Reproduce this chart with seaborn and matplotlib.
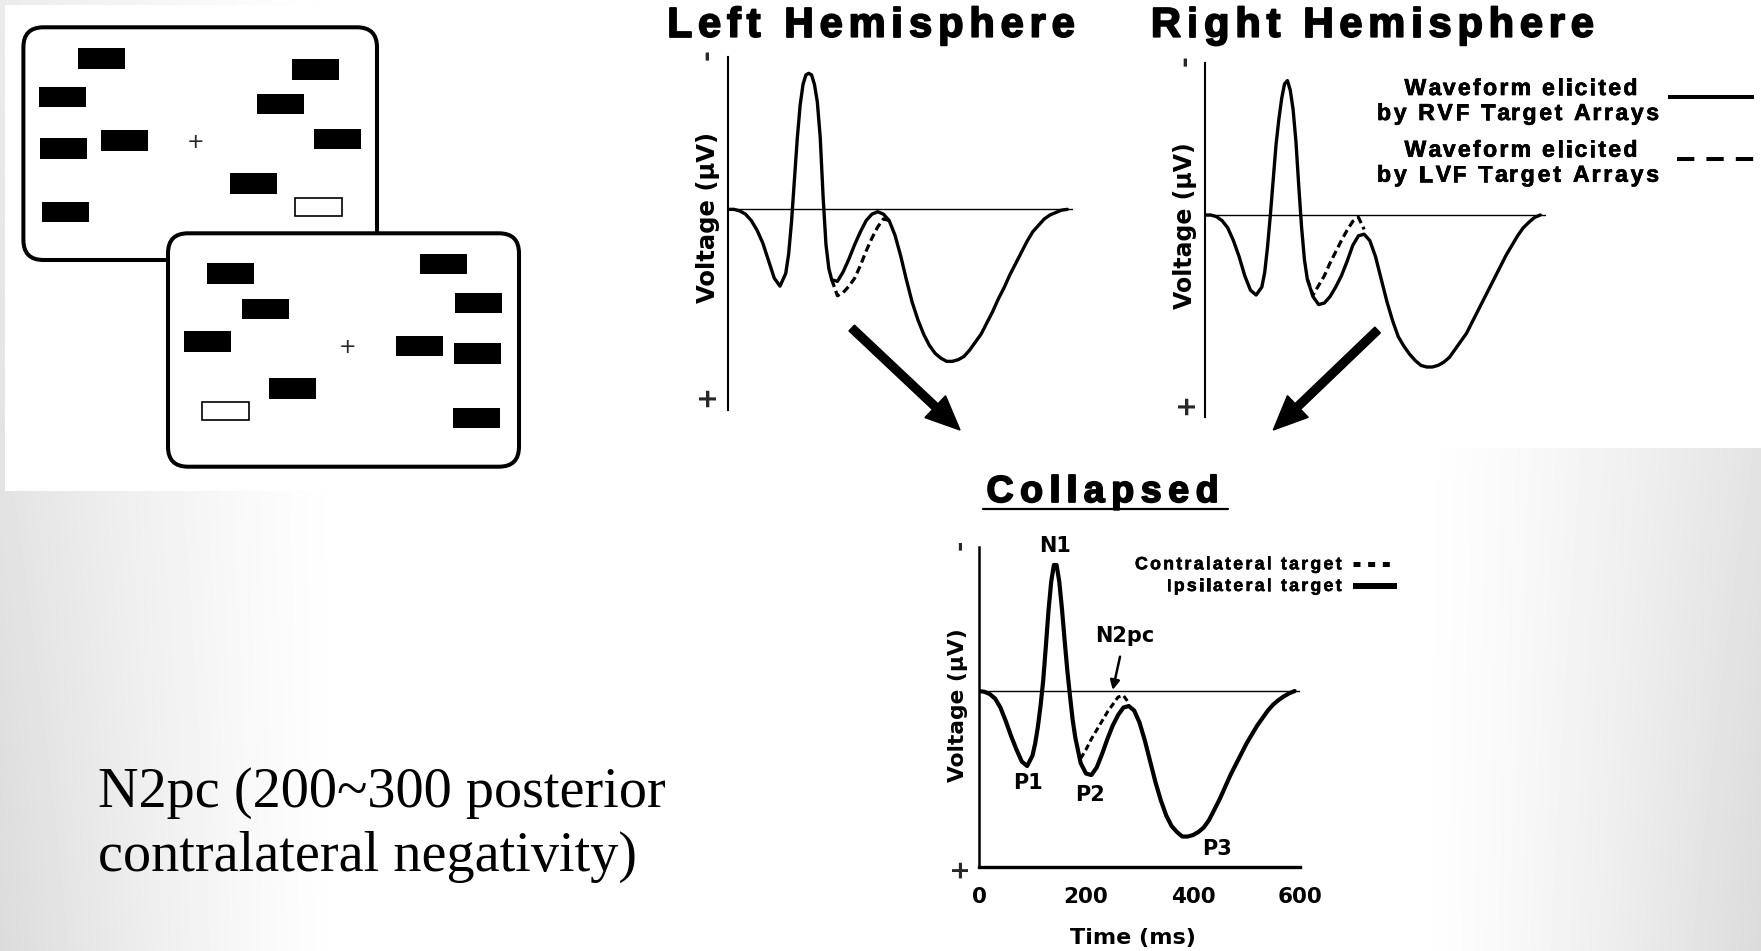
import numpy as np
import matplotlib
matplotlib.use("Agg")
import matplotlib.pyplot as plt
import matplotlib.patheffects as pe
import seaborn as sns
from matplotlib.font_manager import FontProperties
from matplotlib.patches import FancyBboxPatch, Rectangle, FancyArrow

# ------------------------------------------------------------------ data
time_ms = [0, 10, 20, 30, 40, 50, 60, 70, 80, 90, 100,
           105, 110, 115, 120, 125, 130, 135, 140, 145, 150, 155, 160, 165, 170, 175, 180,
           190, 200, 210, 220, 230, 240, 250, 260, 270, 280, 290, 300, 310, 320, 330, 340,
           350, 360, 370, 380, 390, 400, 410, 420, 430, 440, 450, 460, 470, 480, 490, 500,
           510, 520, 530, 540, 550, 560, 570, 580, 590]

# voltage in µV (negative plotted upward)
left_rvf = [0.0, 0.0, 0.1, 0.3, 0.7, 1.3, 2.1, 3.2, 4.3, 4.8, 4.0,
            2.8, 0.8, -1.8, -4.4, -6.5, -7.8, -8.4, -8.5, -8.4, -7.8, -6.7, -4.5, -0.8, 2.2, 3.7, 4.4,
            4.5, 3.9, 3.1, 2.2, 1.4, 0.7, 0.3, 0.15, 0.3, 0.7, 1.6, 2.9, 4.4, 5.8, 6.9, 7.8,
            8.5, 9.0, 9.3, 9.5, 9.5, 9.4, 9.2, 8.8, 8.3, 7.8, 7.1, 6.4, 5.6, 4.9, 4.1, 3.4,
            2.7, 2.0, 1.4, 1.0, 0.6, 0.35, 0.2, 0.05, 0.0]

right_rvf = [0.0, 0.0, 0.1, 0.35, 0.8, 1.6, 2.6, 3.8, 4.7, 5.0, 4.5,
             3.6, 2.0, 0.0, -2.2, -4.4, -6.0, -7.3, -8.2, -8.4, -7.8, -6.6, -4.6, -1.8, 0.8, 2.8, 4.0,
             5.1, 5.6, 5.5, 5.1, 4.5, 3.8, 2.9, 1.9, 1.3, 1.2, 1.6, 2.6, 4.0, 5.4, 6.6, 7.6,
             8.2, 8.7, 9.1, 9.4, 9.5, 9.5, 9.4, 9.2, 8.9, 8.4, 7.9, 7.4, 6.7, 6.0, 5.3, 4.6,
             3.9, 3.2, 2.5, 1.9, 1.3, 0.8, 0.45, 0.15, 0.0]

collapsed_ipsi = [0.0, 0.05, 0.2, 0.5, 1.1, 2.0, 3.0, 3.9, 4.7, 5.0, 4.3,
                  3.5, 2.4, 1.0, -0.7, -3.0, -5.4, -7.3, -8.4, -8.4, -7.3, -5.5, -3.4, -1.4, 0.3, 1.9, 3.1,
                  4.8, 5.5, 5.6, 5.1, 4.2, 3.2, 2.3, 1.6, 1.1, 1.0, 1.3, 2.1, 3.3, 4.7, 6.1, 7.3,
                  8.3, 9.0, 9.4, 9.7, 9.7, 9.6, 9.4, 9.1, 8.6, 7.9, 7.2, 6.4, 5.6, 4.9, 4.2, 3.5,
                  2.9, 2.3, 1.8, 1.3, 0.9, 0.6, 0.35, 0.15, 0.0]

n2pc_time = [180, 190, 200, 210, 220, 230, 240, 250, 260, 270, 280]
left_lvf = [4.4, 5.4, 5.2, 4.8, 4.3, 3.5, 2.6, 1.8, 1.1, 0.6, 0.7]
right_lvf = [4.0, 5.0, 4.4, 3.8, 3.0, 2.3, 1.6, 0.95, 0.4, 0.15, 0.9]

contra_time = [190, 200, 210, 220, 230, 240, 250, 260, 270, 280]
collapsed_contra = [4.5, 3.9, 3.2, 2.6, 2.0, 1.4, 0.9, 0.4, 0.3, 0.8]

x_major = [0, 200, 400, 600]
x_minor = [100, 300, 500]
peak_names = ["N1", "P1", "P2", "P3"]
peak_time = [142, 92, 207, 444]
peak_volt = [-9.3, 6.5, 7.3, 10.9]

# stimulus displays: centres of the distractor bars and of the target (outlined) bar
display1_bars = [(101, 58.3), (62.5, 97), (63.9, 148.7), (124.9, 140.3), (65, 212),
                 (315, 69.5), (280.7, 104.2), (337.3, 139.2), (253.1, 183.7)]
display1_target = (318.9, 207.2)
display1_fix = (195.6, 141.7)
display2_bars = [(230.7, 273.3), (265.5, 309), (207.5, 341.7), (292.2, 388.5),
                 (443, 264.2), (478.7, 303), (419.6, 345.9), (477.8, 353.3), (476.6, 417.8)]
display2_target = (225.6, 410.9)
display2_fix = (347.8, 346.7)

# ------------------------------------------------------------------ setup
sns.set_style("white")
plt.rcParams['font.family'] = ['DejaVu Sans']
W, H = 1761, 951
fig = plt.figure(figsize=(W / 100, H / 100), dpi=100)
TRACK_FAMILY = 'Liberation Sans'

# background (slide gradient) in pixel coordinates
bg = fig.add_axes([0, 0, 1, 1], zorder=0)
bg.set_xlim(0, W)
bg.set_ylim(H, 0)
bg.axis('off')
yy, xx = np.mgrid[0:H, 0:W]
dx = np.abs(xx - 880) / 880.0
shade = np.clip((dx - 0.6) / 0.4, 0, 1) ** 1.3 * (0.08 + 0.06 * yy / H)
bg.imshow(1 - shade, cmap='gray', vmin=0, vmax=1, extent=(0, W, H, 0),
          aspect='auto', interpolation='bilinear', zorder=0)
for (x0, y0, w0, h0) in [(5, 5, 640, 486), (590, 0, 1171, 448), (860, 440, 540, 511)]:
    bg.add_patch(Rectangle((x0, y0), w0, h0, fc='white', ec='none', zorder=1))

# stimulus displays
bw, bh = 47, 20.5
for (bx, by, bwid, bhei), bars, tgt, fix in [
        ((23.4, 27.3, 353.6, 232.7), display1_bars, display1_target, display1_fix),
        ((168, 233.3, 351, 233.4), display2_bars, display2_target, display2_fix)]:
    bg.add_patch(FancyBboxPatch((bx, by), bwid, bhei, boxstyle='round,pad=0,rounding_size=20',
                                fc='white', ec='black', lw=2.9, zorder=2))
    for (cx, cy) in bars:
        bg.add_patch(Rectangle((cx - bw / 2, cy - bh / 2), bw, bh, fc='black', ec='none', zorder=3))
    bg.add_patch(Rectangle((tgt[0] - bw / 2, tgt[1] - 9), bw, 18, fc='white', ec='black',
                           lw=1.2, zorder=3))
    bg.text(fix[0], fix[1], '+', ha='center', va='center', fontsize=15, zorder=3)

renderer = fig.canvas.get_renderer()


def tracked(ax, x, y, s, size, width=None, track=0.0, ha='center', va='baseline', heavy=0.0):
    fp = FontProperties(family=TRACK_FAMILY, weight='bold', size=size)

    def tw(txt):
        if not txt:
            return 0.0
        a = renderer.get_text_width_height_descent(txt + 'x', fp, ismath=False)[0]
        b = renderer.get_text_width_height_descent('x', fp, ismath=False)[0]
        return a - b
    nat = renderer.get_text_width_height_descent(s, fp, ismath=False)[0]
    n = len(s)
    if width is not None and n > 1:
        track = (width - nat) / (n - 1)
    total = nat + track * (n - 1)
    x0 = x - total / 2 if ha == 'center' else (x - total if ha == 'right' else x)
    effects = [pe.withStroke(linewidth=heavy, foreground='black')] if heavy > 0 else None
    for i, ch in enumerate(s):
        if ch == ' ':
            continue
        ax.text(x0 + tw(s[:i]) + i * track, y, ch, fontproperties=fp, ha='left', va=va,
                color='black', zorder=4, path_effects=effects)


# titles
tracked(bg, 870.8, 36.7, "Left Hemisphere", 30, width=408, heavy=1.3)
tracked(bg, 1372.4, 36.7, "Right Hemisphere", 30, width=443, heavy=1.3)
tracked(bg, 1102.5, 502, "Collapsed", 27, width=232, heavy=1.3)
bg.plot([983, 1228.3], [508.5, 508.5], color='black', lw=1.6, zorder=4)

# legend (top right)
tracked(bg, 1521, 95, "Waveform elicited", 16.6, width=233, heavy=0.5)
tracked(bg, 1518, 120, "by RVF Target Arrays", 16.6, width=282, heavy=0.5)
tracked(bg, 1521, 156.7, "Waveform elicited", 16.6, width=233, heavy=0.5)
tracked(bg, 1518, 181.7, "by LVF Target Arrays", 16.6, width=282, heavy=0.5)
bg.plot([1668, 1753.5], [96.7, 96.7], color='black', lw=2.9, solid_capstyle='butt', zorder=4)
bg.plot([1676.7, 1753.5], [159.3, 159.3], color='black', lw=2.9, dashes=(4.3, 3.0),
        dash_capstyle='butt', zorder=4)

# legend (collapsed)
tracked(bg, 1341.7, 569.3, "Contralateral target", 12.8, width=206.7, ha='right', heavy=0.4)
tracked(bg, 1341.7, 591, "Ipsilateral target", 12.8, width=175, ha='right', heavy=0.4)
bg.plot([1353, 1393], [564.3, 564.3], color='black', lw=3.6, dashes=(1.4, 1.53),
        dash_capstyle='butt', zorder=4)
bg.plot([1353, 1397], [585.7, 585.7], color='black', lw=4.3, solid_capstyle='butt', zorder=4)

# big arrows
bg.add_patch(FancyArrow(851.7, 328, 960 - 851.7, 430 - 328, width=8, head_width=30,
                        head_length=34, length_includes_head=True, color='black', zorder=4))
bg.add_patch(FancyArrow(1377.6, 330, 1273.3 - 1377.6, 430 - 330, width=8, head_width=30,
                        head_length=34, length_includes_head=True, color='black', zorder=4))

# explanatory note
note_font = FontProperties(family='Liberation Serif', size=40.5)
bg.text(97.6, 807, "N2pc (200~300 posterior", fontproperties=note_font, ha='left',
        va='baseline', color='black', zorder=4)
bg.text(97.6, 870.7, "contralateral negativity)", fontproperties=note_font, ha='left',
        va='baseline', color='black', zorder=4)


# ------------------------------------------------------------------ waveform panels
def px_axes(l, t, r, b):
    ax = fig.add_axes([l / W, 1 - b / H, (r - l) / W, (b - t) / H], zorder=1)
    ax.patch.set_visible(False)
    return ax


def style_wave(ax, ylim, minus_v, plus_v, sign_pad, sign_size, label_xy, label_size,
               spine_lw):
    ax.set_xlim(0, 600)
    ax.set_ylim(*ylim)
    for s in ['top', 'right', 'bottom']:
        ax.spines[s].set_visible(False)
    ax.spines['left'].set_linewidth(spine_lw)
    ax.spines['left'].set_color('black')
    ax.axhline(0, color='black', lw=1.0, zorder=1)
    ax.set_yticks([minus_v, plus_v], labels=['-', '+'])
    ax.tick_params(axis='y', length=0, pad=sign_pad, labelsize=sign_size, labelrotation=90)
    for lab in ax.get_yticklabels():
        lab.set_fontweight('bold')
    ax.set_ylabel('Voltage (µV)', fontsize=label_size, fontweight='bold', color='black')
    ax.yaxis.set_label_coords(*label_xy)
    ax.yaxis.label.set_va('center')


# Left hemisphere
axL = px_axes(728.3, 56.7, 1073, 410)
sns.lineplot(x=time_ms, y=left_rvf, ax=axL, color='black', lw=2.4, errorbar=None)
sns.lineplot(x=n2pc_time, y=left_lvf, ax=axL, color='black', lw=2.3, errorbar=None)
axL.lines[-1].set_dashes((2.4, 1.3))
style_wave(axL, (12.54, -9.54), -9.39, 11.6, 5.5, 19, (-0.0589, 0.546), 17.5, 1.5)
axL.set_xticks([])
axL.set_xlabel('')

# Right hemisphere
axR = px_axes(1205, 63, 1546, 417)
sns.lineplot(x=time_ms, y=right_rvf, ax=axR, color='black', lw=2.4, errorbar=None)
sns.lineplot(x=n2pc_time, y=right_lvf, ax=axR, color='black', lw=2.3, errorbar=None)
axR.lines[-1].set_dashes((2.4, 1.3))
style_wave(axR, (12.625, -9.5), -9.375, 11.75, 4.3, 19, (-0.0575, 0.542), 17, 1.5)
axR.set_xticks([])
axR.set_xlabel('')

# Collapsed
axC = px_axes(979, 547, 1300, 867)
sns.lineplot(x=time_ms, y=collapsed_ipsi, ax=axC, color='black', lw=3.0, errorbar=None)
sns.lineplot(x=contra_time, y=collapsed_contra, ax=axC, color='black', lw=2.2, errorbar=None)
axC.lines[-1].set_dashes((2.0, 1.2))
style_wave(axC, (11.73, -9.6), -9.47, 11.73, 5.3, 18, (-0.0654, 0.506), 15.7, 1.8)
axC.spines['bottom'].set_visible(True)
axC.spines['bottom'].set_linewidth(2.4)
axC.spines['bottom'].set_color('black')
axC.set_xticks(x_major, labels=[str(v) for v in x_major])
axC.set_xticks(x_minor, minor=True)
axC.tick_params(axis='x', which='major', direction='inout', length=20, width=2,
                pad=4.5, labelsize=15.5, colors='black')
axC.tick_params(axis='x', which='minor', direction='inout', length=12, width=2, colors='black')
for lab in axC.get_xticklabels():
    lab.set_fontweight('bold')
axC.set_xlabel('Time (ms)', fontsize=16, fontweight='bold', color='black')
axC.xaxis.set_label_coords(0.48, -0.222)
axC.xaxis.label.set_va('center')

for name, t, v in zip(peak_names, peak_time, peak_volt):
    axC.text(t, v, name, ha='center', va='baseline', fontsize=15, fontweight='bold',
             color='black')
axC.text(273, -3.29, 'N2pc', ha='center', va='baseline', fontsize=15, fontweight='bold',
         color='black')
axC.annotate('', xy=(249.9, -0.07), xytext=(263.6, -2.29),
             arrowprops=dict(arrowstyle='-|>', color='black', lw=1.8, mutation_scale=14,
                             shrinkA=0, shrinkB=0))

fig.savefig('out.png', dpi=100)
